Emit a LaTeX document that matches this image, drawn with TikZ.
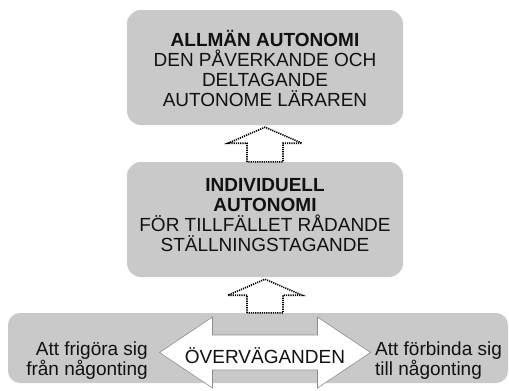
\documentclass[tikz,border=0pt]{standalone}
\usepackage{fontspec}
\setmainfont{Liberation Sans}
\usetikzlibrary{calc}
\definecolor{boxgray}{RGB}{201,201,201}
\definecolor{rimgray}{RGB}{140,140,140}
\definecolor{ink}{RGB}{17,17,17}
\begin{document}
\begin{tikzpicture}[x=1pt,y=-1pt,
  panel/.style={fill=boxgray, draw=none, rounded corners=14pt, inner sep=0pt},
  caption/.style={font=\fontsize{19}{20}\selectfont, text=ink, inner sep=0pt},
  dotarrow/.style={draw=black, line width=1.6pt, dash pattern=on 1.2pt off 1.0pt, fill=white, line join=miter},
  twoway/.style={draw=rimgray, line width=0.6pt, fill=white}]
\useasboundingbox (0,0) rectangle (509,391);

% three levels
\node[panel, minimum width=276pt, minimum height=115pt] (general) at (265,67.5) {};
\node[panel, minimum width=276pt, minimum height=115pt] (individual) at (265,219.5) {};
\node[panel, rounded corners=12pt, minimum width=500pt, minimum height=70pt] (weighing) at (258,348) {};

\node[caption, align=center] (generaltext) at (265,68.5)
  {\textbf{ALLMÄN AUTONOMI}\\DEN PÅVERKANDE OCH\\DELTAGANDE\\AUTONOME LÄRAREN};
\node[caption, align=center] (individualtext) at (265,215)
  {\textbf{INDIVIDUELL}\\\textbf{AUTONOMI}\\FÖR TILLFÄLLET RÅDANDE\\STÄLLNINGSTAGANDE};

% dotted block arrows between the levels
\newcommand{\dottedup}[2]{%
  \path (#1.north) coordinate (b) ($(#2.south)+(0,2)$) coordinate (t);
  \draw[dotarrow] ($(b)+(-18,0)$) -- ($(t)+(-18,16)$) -- ($(t)+(-37,16)$) -- (t)
    -- ($(t)+(37,16)$) -- ($(t)+(18,16)$) -- ($(b)+(18,0)$) -- cycle;}
\dottedup{individual}{general}
\node[inner sep=0pt, minimum width=200pt, minimum height=1pt] (weightop) at (265,313.5) {};
\dottedup{weightop}{individual}

% two-way arrow in the bottom level
\coordinate (mid) at (265,352.5);
\draw[twoway] ($(mid)+(-105.5,0)$) -- ($(mid)+(-52.5,-35.5)$) -- ($(mid)+(-52.5,-17.5)$)
  -- ($(mid)+(52.5,-17.5)$) -- ($(mid)+(52.5,-35.5)$) -- ($(mid)+(105.5,0)$)
  -- ($(mid)+(52.5,35.5)$) -- ($(mid)+(52.5,17.5)$) -- ($(mid)+(-52.5,17.5)$)
  -- ($(mid)+(-52.5,35.5)$) -- cycle;
\node[caption] (consider) at (265,356) {ÖVERVÄGANDEN};
\node[caption, align=right, anchor=east] (release) at (148,361)
  {Att frigöra sig\\från någonting};
\node[caption, align=left, anchor=west] (bind) at (375,361)
  {Att förbinda sig\\till någonting};
\end{tikzpicture}
\end{document}
